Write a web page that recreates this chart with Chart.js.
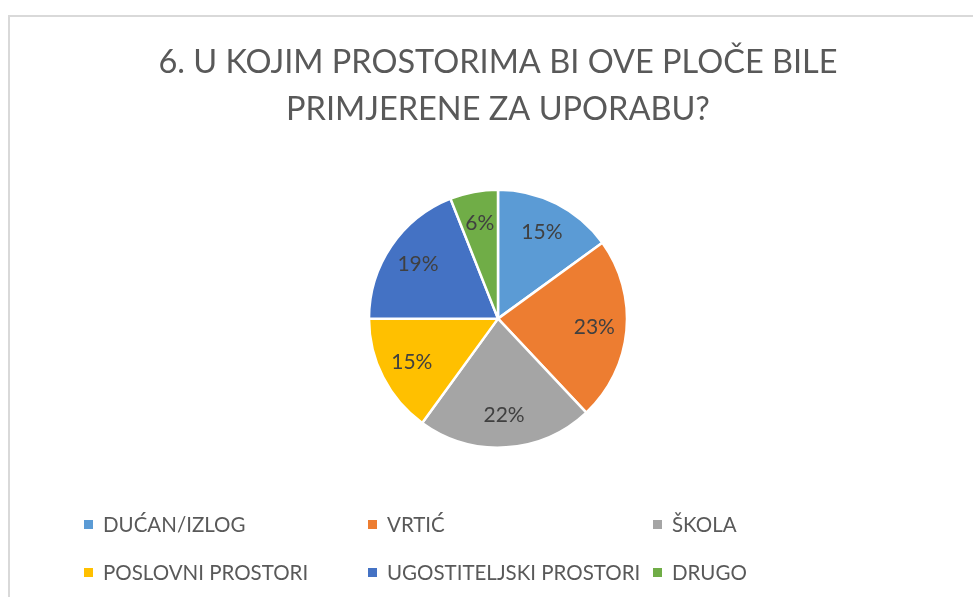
<!DOCTYPE html>
<html>
<head>
<meta charset="utf-8">
<script src="https://cdn.jsdelivr.net/npm/chart.js@4"></script>
<style>
  html, body { margin: 0; padding: 0; background: #fff; }
  #wrap { position: relative; width: 973px; height: 597px; overflow: hidden; }
  #frame { position: absolute; left: 8px; top: 15px; width: 1200px; height: 800px;
           border: 2px solid #d9d9d9; box-sizing: border-box; }
  #chart { position: absolute; left: 0; top: 0; }
  .leg { position: absolute; font-family: Lato, "Open Sans", sans-serif; font-size: 20.5px;
         color: #595959; white-space: nowrap; line-height: 22px; }
  .leg i { display: inline-block; width: 9px; height: 9px; margin-right: 10px;
           vertical-align: 3px; }
</style>
</head>
<body>
<div id="wrap">
  <div id="frame"></div>
  <canvas id="chart" width="973" height="597"></canvas>
  <div id="legend"></div>
</div>
<script>
// Données du graphique
const titre = ["6. U KOJIM PROSTORIMA BI OVE PLOČE BILE", "PRIMJERENE ZA UPORABU?"];
const categories = ["DUĆAN/IZLOG", "VRTIĆ", "ŠKOLA", "POSLOVNI PROSTORI", "UGOSTITELJSKI PROSTORI", "DRUGO"];
const pourcentages = [15, 23, 22, 15, 19, 6];
const couleurs = ["#5B9BD5", "#ED7D31", "#A5A5A5", "#FFC000", "#4472C4", "#70AD47"];

// Étiquettes de pourcentage dans les parts
const etiquettesPlugin = {
    id: "etiquettes",
    afterDatasetsDraw(chart) {
        const ctx = chart.ctx;
        const meta = chart.getDatasetMeta(0);
        ctx.save();
        ctx.font = "21px Lato, 'Open Sans', sans-serif";
        ctx.fillStyle = "#404040";
        ctx.textAlign = "center";
        ctx.textBaseline = "middle";
        meta.data.forEach((arc, i) => {
            const p = arc.getProps(["x", "y", "startAngle", "endAngle", "outerRadius"], true);
            const a = (p.startAngle + p.endAngle) / 2;
            const r = p.outerRadius * 0.75;
            ctx.fillText(pourcentages[i] + "%", p.x + Math.cos(a) * r, p.y + Math.sin(a) * r);
        });
        ctx.restore();
    }
};

new Chart(document.getElementById("chart"), {
    type: "pie",
    data: {
        labels: categories,
        datasets: [{
            data: pourcentages,
            backgroundColor: couleurs,
            borderColor: "#ffffff",
            borderWidth: 2.5
        }]
    },
    options: {
        responsive: false,
        animation: false,
        radius: 129,
        layout: { padding: { left: 23, right: 0, top: 0, bottom: 93 } },
        plugins: {
            legend: { display: false },
            tooltip: { enabled: false },
            title: {
                display: true,
                text: titre,
                color: "#595959",
                font: { family: "Lato, 'Open Sans', sans-serif", size: 32.5, weight: "normal", lineHeight: 1.45 },
                padding: { top: 39, bottom: 0 }
            }
        }
    },
    plugins: [etiquettesPlugin]
});

// Légende en grille (3 colonnes, 2 lignes)
const legende = document.getElementById("legend");
const colX = [84, 368, 653];
const rowY = [513, 561];
categories.forEach((nom, i) => {
    const item = document.createElement("div");
    item.className = "leg";
    item.style.left = colX[i % 3] + "px";
    item.style.top = rowY[Math.floor(i / 3)] + "px";
    item.innerHTML = `<i style="background:${couleurs[i]}"></i>${nom}`;
    legende.appendChild(item);
});
</script>
</body>
</html>
